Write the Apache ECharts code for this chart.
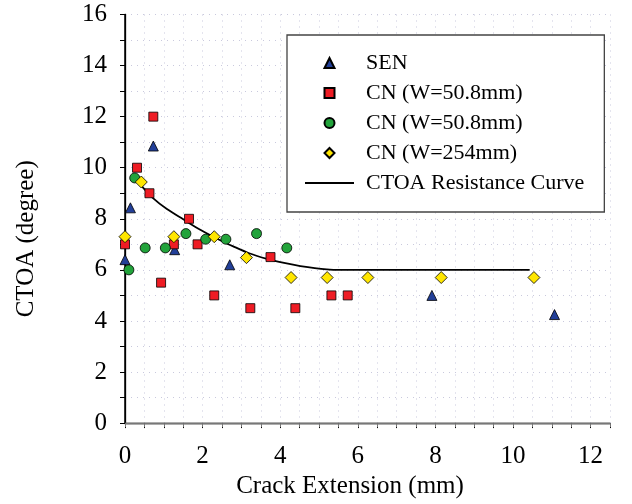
<!DOCTYPE html>
<html>
<head>
<meta charset="utf-8">
<script src="https://cdn.jsdelivr.net/npm/echarts@6/dist/echarts.min.js"></script>
<style>html,body{margin:0;padding:0;background:#fff}#c{width:632px;height:504px}</style>
</head>
<body>
<div id="c"></div>
<script>
// ---- data ----
var seriesNames = ['SEN', 'CN (W=50.8mm)', 'CN (W=50.8mm) ', 'CN (W=254mm)', 'CTOA Resistance Curve'];
var senData = [[0, 6.4], [0.14, 8.43], [0.73, 10.85], [1.28, 6.79], [2.7, 6.2], [7.91, 5.0], [11.07, 4.25]];
var cnRedData = [[0, 7.0], [0.31, 10.0], [0.63, 9.0], [0.73, 12.0], [0.93, 5.5], [1.26, 7.0], [1.65, 8.0], [1.87, 7.0], [2.3, 5.0], [3.23, 4.5], [3.75, 6.5], [4.39, 4.5], [5.32, 5.0], [5.74, 5.0]];
var cnGreenData = [[0.1, 6.0], [0.25, 9.6], [0.52, 6.86], [1.04, 6.86], [1.57, 7.42], [2.08, 7.2], [2.6, 7.2], [3.39, 7.42], [4.17, 6.86]];
var cnYellowData = [[0, 7.3], [0.42, 9.44], [1.26, 7.3], [2.3, 7.3], [3.13, 6.48], [4.28, 5.7], [5.21, 5.7], [6.26, 5.7], [8.15, 5.7], [10.54, 5.7]];
var curveData = [[0.39, 9.35], [0.73, 8.8], [1.08, 8.38], [1.5, 7.98], [1.94, 7.57], [2.4, 7.2], [2.79, 6.92], [3.2, 6.65], [3.66, 6.43], [4.1, 6.27], [4.52, 6.15], [5.2, 6.02], [5.6, 6.0], [10.43, 6.0]];
var xMin = 0, xMax = 12.5, xInterval = 2;
var yMin = 0, yMax = 16, yInterval = 2;
var xTitle = 'Crack Extension (mm)';
var yTitle = 'CTOA (degree)';

var FONT = 'Liberation Serif';
var gridColor = '#c9c9dd';
var icons = [
  'path://M5,0L10,10L0,10Z',
  'path://M0,0L9,0L9,9L0,9Z',
  'path://M5,0A5,5,0,1,1,5,10A5,5,0,1,1,5,0Z',
  'path://M5,0L10,5L5,10L0,5Z',
  'path://M0,0L49,0L49,1.8L0,1.8Z'
];
var chart = echarts.init(document.getElementById('c'), null, {renderer: 'canvas'});

var option = {
  animation: false,
  backgroundColor: '#fff',
  grid: {left: 125, right: 22, top: 14.5, bottom: 79},
  legend: {
    orient: 'vertical',
    left: 287, top: 35,
    padding: [13, 20, 14, 18],
    itemGap: 0,
    itemWidth: 49, itemHeight: 10,
    symbolKeepAspect: true,
    borderColor: '#444', borderWidth: 1.3,
    backgroundColor: '#fff',
    selectedMode: false,
    data: seriesNames.map(function (n, i) {
      var d = {name: n, icon: icons[i]};
      if (i === 1) { d.itemHeight = 9; }
      return d;
    }),
    formatter: function (n) { return n.trim(); },
    textStyle: {fontFamily: FONT, fontSize: 22, color: '#000', lineHeight: 30, padding: [0, 0, 0, 7]}
  },
  xAxis: [{
    type: 'value', min: xMin, max: xMax, interval: xInterval,
    position: 'bottom',
    axisLine: {show: true, lineStyle: {color: '#000', width: 1.3}},
    axisTick: {show: true, inside: false, length: 5, lineStyle: {color: '#000'}},
    minorTick: {show: true, splitNumber: 4, length: 5, lineStyle: {color: '#000'}},
    axisLabel: {fontFamily: FONT, fontSize: 25, color: '#000', margin: 21,
      formatter: function (v) { return v > 12 ? '' : String(v); }},
    splitLine: {show: true, lineStyle: {color: gridColor, type: [1, 5], width: 1}},
    minorSplitLine: {show: true, lineStyle: {color: gridColor, type: [1, 5], width: 1}},
    name: xTitle, nameLocation: 'middle', nameGap: 50,
    nameTextStyle: {fontFamily: FONT, fontSize: 25, color: '#000', padding: [0, 35, 0, 0]}
  }, {
    type: 'value', min: xMin, max: xMax, interval: 0.5,
    position: 'top',
    axisLine: {show: true, lineStyle: {color: '#777', width: 1.3}},
    axisTick: {show: true, inside: true, length: 4, lineStyle: {color: '#777'}},
    axisLabel: {show: false},
    splitLine: {show: false}
  }],
  yAxis: [{
    type: 'value', min: yMin, max: yMax, interval: yInterval,
    position: 'left',
    axisLine: {show: true, lineStyle: {color: '#000', width: 1.3}},
    axisTick: {show: true, inside: false, length: 5, lineStyle: {color: '#000'}},
    minorTick: {show: true, splitNumber: 2, length: 5, lineStyle: {color: '#000'}},
    axisLabel: {fontFamily: FONT, fontSize: 25, color: '#000', margin: 18},
    splitLine: {show: true, lineStyle: {color: gridColor, type: [1, 5], width: 1}},
    minorSplitLine: {show: true, lineStyle: {color: gridColor, type: [1, 5], width: 1}},
    name: yTitle, nameLocation: 'middle', nameGap: 86, nameRotate: 90,
    nameTextStyle: {fontFamily: FONT, fontSize: 25, color: '#000', padding: [0, 40, 0, 0]}
  }, {
    type: 'value', min: yMin, max: yMax, interval: yInterval,
    position: 'right',
    axisLine: {show: true, lineStyle: {color: '#000', width: 1.5}},
    axisTick: {show: false}, axisLabel: {show: false}, splitLine: {show: false}
  }],
  series: [{
    name: seriesNames[4], type: 'line', data: curveData, smooth: 0.3,
    symbol: 'none', showSymbol: false, z: 2,
    lineStyle: {color: '#000', width: 1.8}, itemStyle: {color: '#000'}
  }, {
    name: seriesNames[0], type: 'scatter', data: senData, symbol: 'triangle', symbolSize: [10, 10], z: 3,
    itemStyle: {color: '#223f98', borderColor: '#000', borderWidth: 0.8, opacity: 1}
  }, {
    name: seriesNames[1], type: 'scatter', data: cnRedData, symbol: 'rect', symbolSize: 9, z: 3,
    itemStyle: {color: '#ee1c24', borderColor: '#000', borderWidth: 0.8, opacity: 1}
  }, {
    name: seriesNames[2], type: 'scatter', data: cnGreenData, symbol: 'circle', symbolSize: 10, z: 3,
    itemStyle: {color: '#22a33b', borderColor: '#000', borderWidth: 0.8, opacity: 1}
  }, {
    name: seriesNames[3], type: 'scatter', data: cnYellowData, symbol: 'diamond', symbolSize: 12, z: 4,
    itemStyle: {color: '#ffe600', borderColor: '#000', borderWidth: 0.8, opacity: 1}
  }]
};
chart.setOption(option);
</script>
</body>
</html>
